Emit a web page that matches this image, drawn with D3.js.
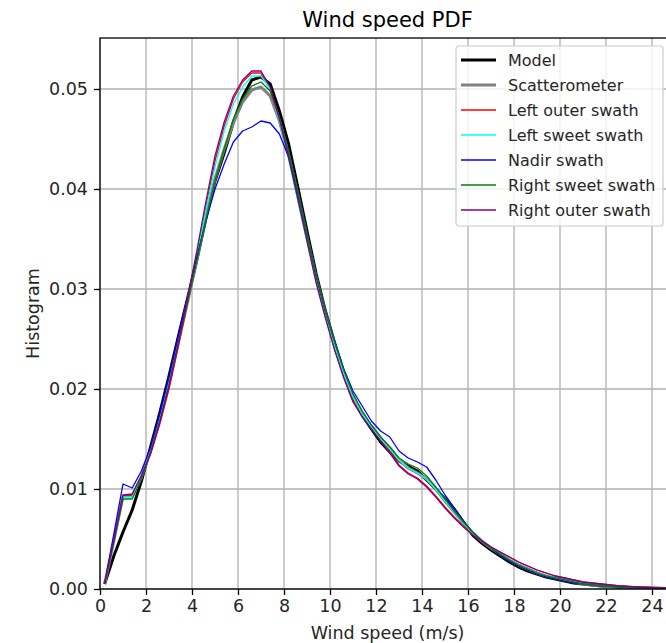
<!DOCTYPE html>
<html>
<head>
<meta charset="utf-8">
<script src="https://cdn.jsdelivr.net/npm/d3@7"></script>
<style>
  html, body { margin: 0; padding: 0; background: #fff; }
  svg { display: block; font-family: "DejaVu Sans", sans-serif; }
</style>
</head>
<body>
<svg id="chart" width="666" height="643"></svg>
<script>
// Bin centres of the wind speed histogram (m/s)
const windSpeed = [
  0.2, 0.6, 1.0, 1.4, 1.8, 2.2, 2.6, 3.0, 3.4, 3.8,
  4.2, 4.6, 5.0, 5.4, 5.8, 6.2, 6.6, 7.0, 7.4, 7.8,
  8.2, 8.6, 9.0, 9.4, 9.8, 10.2, 10.6, 11.0, 11.4, 11.8,
  12.2, 12.6, 13.0, 13.4, 13.8, 14.2, 14.6, 15.0, 15.4, 15.8,
  16.2, 16.6, 17.0, 17.4, 17.8, 18.2, 18.6, 19.0, 19.4, 19.8,
  20.2, 20.6, 21.0, 21.4, 21.8, 22.2, 22.6, 23.0, 23.4, 23.8,
  24.2, 24.6, 25.0
];

const model = [
  0.0005, 0.0033, 0.0057, 0.0079, 0.0108, 0.0142, 0.0176, 0.0213, 0.0252, 0.0290,
  0.0328, 0.0370, 0.0408, 0.0436, 0.0467, 0.0492, 0.0509, 0.0512, 0.0505, 0.0478,
  0.0445, 0.0402, 0.0358, 0.0315, 0.0278, 0.0246, 0.0216, 0.0192, 0.0174, 0.0160,
  0.0147, 0.0137, 0.0128, 0.0123, 0.0118, 0.0109, 0.0100, 0.0090, 0.0080, 0.0067,
  0.0054, 0.0046, 0.0039, 0.0033, 0.0027, 0.0022, 0.0018, 0.0015, 0.0012, 0.0010,
  0.0008, 0.0006, 0.0005, 0.0004, 0.0003, 0.00025, 0.0002, 0.00015, 0.0001, 0.0001,
  0.00008, 0.00006, 0.00005
];

const scatterometer = [
  0.0005, 0.0048, 0.0093, 0.0093, 0.0112, 0.0138, 0.0169, 0.0205, 0.0246, 0.0286,
  0.0328, 0.0372, 0.0410, 0.0440, 0.0466, 0.0487, 0.0499, 0.0502, 0.0493, 0.0468,
  0.0434, 0.0394, 0.0352, 0.0311, 0.0276, 0.0245, 0.0217, 0.0193, 0.0176, 0.0163,
  0.0151, 0.0141, 0.0129, 0.0121, 0.0116, 0.0110, 0.0100, 0.0088, 0.0077, 0.0066,
  0.0056, 0.0048, 0.0041, 0.0035, 0.0029, 0.0024, 0.0020, 0.0016, 0.0013, 0.0011,
  0.0009, 0.0007, 0.0005, 0.0004, 0.0003, 0.00025, 0.0002, 0.00015, 0.0001, 0.0001,
  0.00008, 0.00006, 0.00005
];

const leftOuter = [
  0.0005, 0.0049, 0.0093, 0.0094, 0.0113, 0.0135, 0.0165, 0.0200, 0.0242, 0.0286,
  0.0333, 0.0382, 0.0428, 0.0463, 0.0490, 0.0507, 0.0516, 0.0516, 0.0500, 0.0470,
  0.0433, 0.0392, 0.0350, 0.0308, 0.0273, 0.0240, 0.0212, 0.0188, 0.0176, 0.0163,
  0.0150, 0.0137, 0.0124, 0.0116, 0.0111, 0.0103, 0.0093, 0.0082, 0.0072, 0.0063,
  0.0055, 0.0048, 0.0042, 0.0037, 0.0032, 0.0027, 0.0023, 0.0019, 0.0016, 0.0013,
  0.0011, 0.0009, 0.0007, 0.0006, 0.0005, 0.0004, 0.0003, 0.00025, 0.0002, 0.00015,
  0.0001, 0.0001, 0.00008
];

const leftSweet = [
  0.0005, 0.0048, 0.0092, 0.0092, 0.0112, 0.0138, 0.0170, 0.0207, 0.0248, 0.0289,
  0.0332, 0.0378, 0.0422, 0.0458, 0.0485, 0.0502, 0.0513, 0.0513, 0.0500, 0.0468,
  0.0430, 0.0388, 0.0347, 0.0307, 0.0272, 0.0243, 0.0215, 0.0192, 0.0175, 0.0162,
  0.0150, 0.0140, 0.0129, 0.0121, 0.0116, 0.0110, 0.0100, 0.0088, 0.0077, 0.0066,
  0.0056, 0.0048, 0.0041, 0.0035, 0.0029, 0.0024, 0.0020, 0.0016, 0.0013, 0.0011,
  0.0009, 0.0007, 0.0005, 0.0004, 0.0003, 0.00025, 0.0002, 0.00015, 0.0001, 0.0001,
  0.00008, 0.00006, 0.00005
];

const nadir = [
  0.0005, 0.0055, 0.0105, 0.0101, 0.0118, 0.0142, 0.0175, 0.0212, 0.0252, 0.0291,
  0.0331, 0.0368, 0.0400, 0.0425, 0.0447, 0.0458, 0.0462, 0.0468, 0.0466, 0.0455,
  0.0432, 0.0396, 0.0355, 0.0313, 0.0278, 0.0248, 0.0220, 0.0198, 0.0183, 0.0168,
  0.0158, 0.0152, 0.0138, 0.0131, 0.0127, 0.0122, 0.0109, 0.0094, 0.0081, 0.0068,
  0.0057, 0.0048, 0.0041, 0.0034, 0.0028, 0.0023, 0.0019, 0.0015, 0.0012, 0.0010,
  0.0008, 0.0006, 0.0005, 0.0004, 0.0003, 0.00025, 0.0002, 0.00015, 0.0001, 0.0001,
  0.00008, 0.00006, 0.00005
];

const rightSweet = [
  0.0005, 0.0047, 0.0090, 0.0090, 0.0110, 0.0137, 0.0168, 0.0204, 0.0245, 0.0286,
  0.0327, 0.0369, 0.0408, 0.0440, 0.0470, 0.0490, 0.0503, 0.0507, 0.0498, 0.0472,
  0.0438, 0.0398, 0.0355, 0.0314, 0.0278, 0.0247, 0.0219, 0.0195, 0.0178, 0.0164,
  0.0152, 0.0142, 0.0131, 0.0125, 0.0121, 0.0113, 0.0102, 0.0090, 0.0078, 0.0067,
  0.0057, 0.0048, 0.0041, 0.0035, 0.0029, 0.0024, 0.0020, 0.0016, 0.0013, 0.0011,
  0.0009, 0.0007, 0.0005, 0.0004, 0.0003, 0.00025, 0.0002, 0.00015, 0.0001, 0.0001,
  0.00008, 0.00006, 0.00005
];

const rightOuter = [
  0.0005, 0.0049, 0.0094, 0.0095, 0.0113, 0.0136, 0.0167, 0.0203, 0.0245, 0.0290,
  0.0337, 0.0387, 0.0433, 0.0467, 0.0493, 0.0509, 0.0518, 0.0518, 0.0502, 0.0470,
  0.0432, 0.0390, 0.0348, 0.0306, 0.0271, 0.0239, 0.0211, 0.0187, 0.0172, 0.0160,
  0.0148, 0.0136, 0.0123, 0.0115, 0.0110, 0.0102, 0.0092, 0.0081, 0.0071, 0.0062,
  0.0054, 0.0048, 0.0042, 0.0037, 0.0032, 0.0027, 0.0023, 0.0019, 0.0016, 0.0013,
  0.0011, 0.0009, 0.0007, 0.0006, 0.0005, 0.0004, 0.0003, 0.00025, 0.0002, 0.00015,
  0.0001, 0.0001, 0.00008
];

const seriesNames = [
  "Model", "Scatterometer", "Left outer swath", "Left sweet swath",
  "Nadir swath", "Right sweet swath", "Right outer swath"
];
const seriesValues = [model, scatterometer, leftOuter, leftSweet, nadir, rightSweet, rightOuter];
const seriesColors = ["#000000", "#808080", "#ff0000", "#00ffff", "#0000ff", "#008000", "#800080"];
const seriesWidths = [3, 3, 1.3, 1.3, 1.3, 1.3, 1.3];

const xTicks = d3.range(0, 25, 2);
const yTicks = [0, 0.01, 0.02, 0.03, 0.04, 0.05];

const svg = d3.select("#chart");
const margin = { left: 100, top: 38, right: 675, bottom: 589 };

const x = d3.scaleLinear().domain([0, 25]).range([margin.left, margin.right]);
const y = d3.scaleLinear().domain([0, 0.0551]).range([margin.bottom, margin.top]);

svg.append("defs").append("clipPath").attr("id", "plot-clip")
  .append("rect")
  .attr("x", margin.left).attr("y", margin.top)
  .attr("width", margin.right - margin.left).attr("height", margin.bottom - margin.top);

// Grid
const grid = svg.append("g").attr("stroke", "#b0b0b0").attr("stroke-width", 1.3);
grid.selectAll("line.gx").data(xTicks).join("line")
  .attr("x1", d => x(d)).attr("x2", d => x(d))
  .attr("y1", margin.top).attr("y2", margin.bottom);
grid.selectAll("line.gy").data(yTicks).join("line")
  .attr("x1", margin.left).attr("x2", margin.right)
  .attr("y1", d => y(d)).attr("y2", d => y(d));

// Curves
const line = d3.line().x((d, i) => x(windSpeed[i])).y(d => y(d));
const curves = svg.append("g").attr("clip-path", "url(#plot-clip)");
seriesValues.forEach((vals, k) => {
  curves.append("path")
    .datum(vals)
    .attr("fill", "none")
    .attr("stroke", seriesColors[k])
    .attr("stroke-width", seriesWidths[k])
    .attr("stroke-linejoin", "round")
    .attr("d", line);
});

// Axes
const xAxis = d3.axisBottom(x).tickValues(xTicks).tickFormat(d3.format("d"))
  .tickSize(6).tickPadding(5);
const yAxis = d3.axisLeft(y).tickValues(yTicks).tickFormat(d3.format(".2f"))
  .tickSize(6).tickPadding(6);

const gx = svg.append("g").attr("transform", `translate(0,${margin.bottom})`).call(xAxis);
const gy = svg.append("g").attr("transform", `translate(${margin.left},0)`).call(yAxis);
[gx, gy].forEach(g => {
  g.select(".domain").remove();
  g.selectAll(".tick line").attr("stroke", "#000").attr("stroke-width", 1.3);
  g.selectAll(".tick text").attr("fill", "#262626")
    .style("font-family", "DejaVu Sans").style("font-size", "17.5px");
});

// Spines
const spines = svg.append("g").attr("stroke", "#000").attr("stroke-width", 1.3).attr("fill", "none");
spines.append("rect")
  .attr("x", margin.left).attr("y", margin.top)
  .attr("width", margin.right - margin.left).attr("height", margin.bottom - margin.top);

// Titles
svg.append("text")
  .attr("x", (margin.left + margin.right) / 2).attr("y", 27)
  .attr("text-anchor", "middle")
  .style("font-size", "21px").attr("fill", "#000")
  .text("Wind speed PDF");

svg.append("text")
  .attr("x", (margin.left + margin.right) / 2).attr("y", 639)
  .attr("text-anchor", "middle")
  .style("font-size", "17.5px").attr("fill", "#262626")
  .text("Wind speed (m/s)");

svg.append("text")
  .attr("transform", `translate(39,${(margin.top + margin.bottom) / 2}) rotate(-90)`)
  .attr("text-anchor", "middle")
  .style("font-size", "17.5px").attr("fill", "#262626")
  .text("Histogram");

// Legend
const legend = svg.append("g").attr("transform", "translate(456,46)");
legend.append("rect")
  .attr("x", 0).attr("y", 0).attr("width", 207).attr("height", 180)
  .attr("rx", 3).attr("ry", 3)
  .attr("fill", "#fff").attr("fill-opacity", 0.8)
  .attr("stroke", "#cccccc").attr("stroke-width", 1.2);
const items = legend.selectAll("g.item").data(seriesNames).join("g")
  .attr("transform", (d, i) => `translate(0,${14 + i * 25})`);
items.append("line")
  .attr("x1", 5).attr("x2", 40).attr("y1", 0).attr("y2", 0)
  .attr("stroke", (d, i) => seriesColors[i])
  .attr("stroke-width", (d, i) => seriesWidths[i]);
items.append("text")
  .attr("x", 52).attr("y", 5.8)
  .style("font-size", "16px").attr("fill", "#262626")
  .text(d => d);
</script>
</body>
</html>
